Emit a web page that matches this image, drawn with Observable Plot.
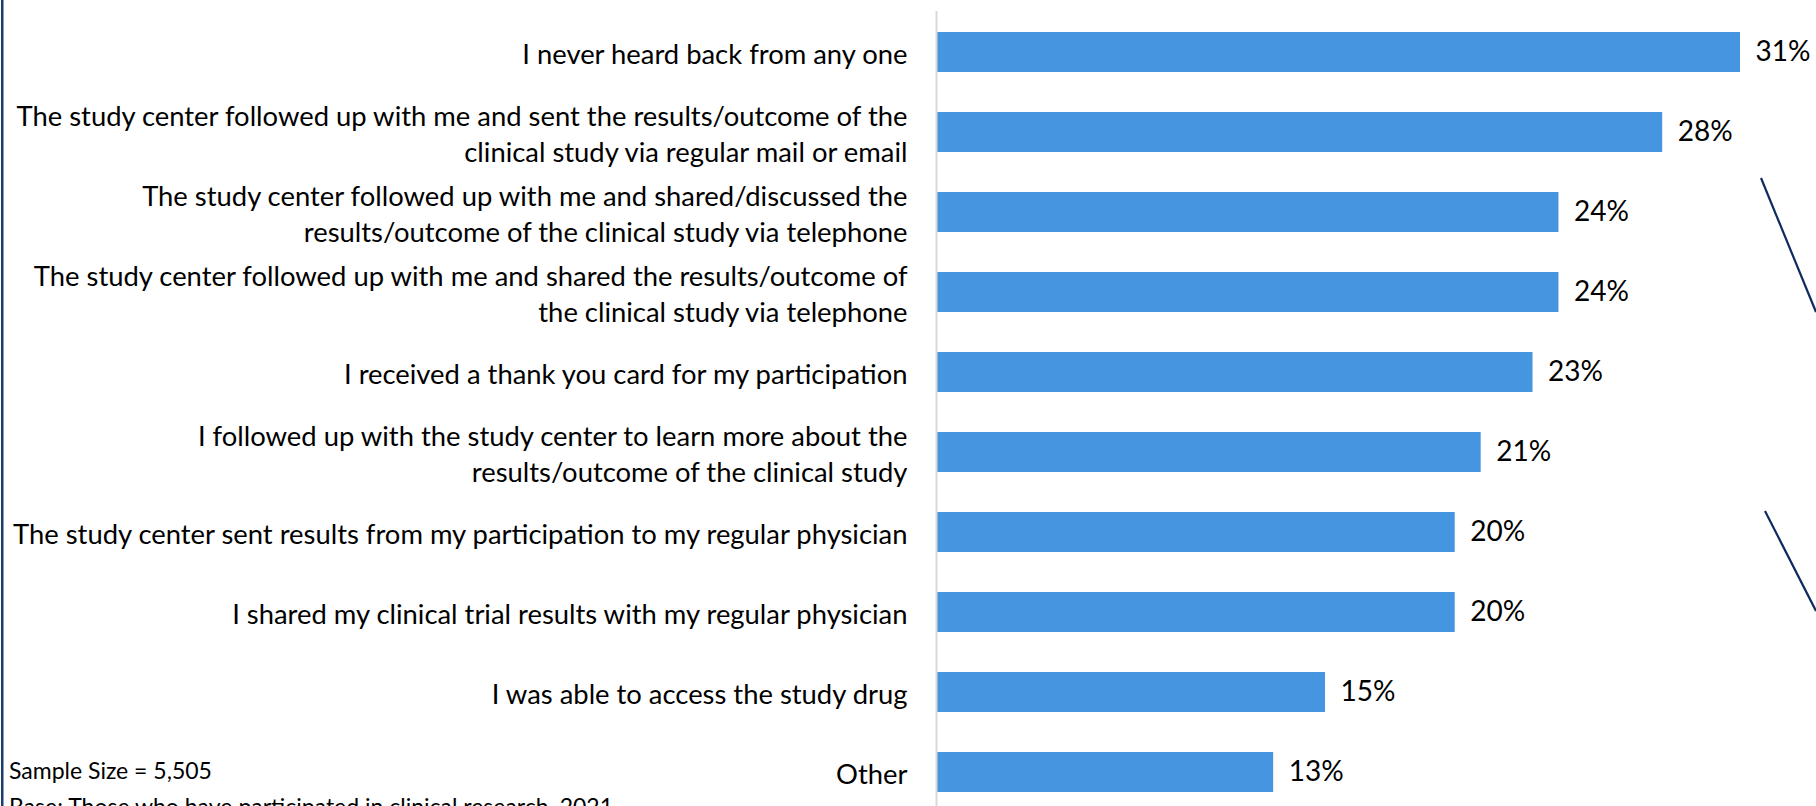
<!DOCTYPE html>
<html>
<head>
<meta charset="utf-8">
<script src="https://cdn.jsdelivr.net/npm/d3@7"></script>
<script src="https://cdn.jsdelivr.net/npm/@observablehq/plot@0.6"></script>
<style>
  html, body { margin: 0; padding: 0; background: #fff; overflow: hidden; }
  #wrap { position: relative; width: 1816px; height: 806px; }
  #chart, #overlay { position: absolute; left: 0; top: 0; }
  #overlay { pointer-events: none; }
</style>
</head>
<body>
<div id="wrap">
  <div id="chart"></div>
  <svg id="overlay" width="1816" height="806"></svg>
</div>
<script>
// Responses, top to bottom, with their shares of respondents (%)
const categories = [
  "I never heard back from any one",
  "The study center followed up with me and sent the results/outcome of the\nclinical study via regular mail or email",
  "The study center followed up with me and shared/discussed the\nresults/outcome of the clinical study via telephone",
  "The study center followed up with me and shared the results/outcome of\nthe clinical study via telephone",
  "I received a thank you card for my participation",
  "I followed up with the study center to learn more about the\nresults/outcome of the clinical study",
  "The study center sent results from my participation to my regular physician",
  "I shared my clinical trial results with my regular physician",
  "I was able to access the study drug",
  "Other"
];
const shares = [31, 28, 24, 24, 23, 21, 20, 20, 15, 13];

const sampleNote = "Sample Size = 5,505";
const baseNote = "Base: Those who have participated in clinical research, 2021";

const rows = categories.map((c, i) => ({category: c, share: shares[i]}));

const FONT = "Lato, 'Liberation Sans', sans-serif";
const BAR = "#4695e1";

const chart = Plot.plot({
  width: 1816,
  height: 806,
  marginLeft: 936,
  marginRight: 0,
  marginTop: 11,
  marginBottom: 0,
  style: {fontFamily: FONT, fontSize: "27px", color: "#000", background: "transparent"},
  x: {domain: [0, 33.93], axis: null},
  y: {domain: categories, paddingInner: 0.5, paddingOuter: 0.2085, align: 0.6, label: null},
  marks: [
    Plot.barX(rows, {x: "share", y: "category", fill: BAR}),
    Plot.ruleX([0], {stroke: "#d9d9d9", strokeWidth: 2}),
    Plot.axisY({
      tickSize: 0,
      tickPadding: 29,
      fontSize: 27.4,
      lineHeight: 1.32,
      fill: "#000",
      label: null
    }),
    Plot.text(rows, {
      x: "share",
      y: "category",
      text: d => `${d.share}%`,
      textAnchor: "start",
      dx: 15,
      fontSize: 28,
      fill: "#000"
    })
  ]
});
document.getElementById("chart").appendChild(chart);

// Slide decorations: left border, footnotes and callout connector lines
const ov = d3.select("#overlay");
ov.append("rect").attr("x", 1).attr("y", 0).attr("width", 2.5).attr("height", 806).attr("fill", "#1c3f6e");
ov.append("text").attr("x", 9).attr("y", 779)
  .attr("font-family", FONT).attr("font-size", 23).attr("fill", "#000").text(sampleNote);
ov.append("text").attr("x", 9).attr("y", 815)
  .attr("font-family", FONT).attr("font-size", 23).attr("fill", "#000").text(baseNote);
const connectors = [
  [[1761, 178], [1816, 312]],
  [[1765, 511], [1816, 611]]
];
connectors.forEach(([a, b]) => {
  ov.append("line").attr("x1", a[0]).attr("y1", a[1]).attr("x2", b[0]).attr("y2", b[1])
    .attr("stroke", "#0e2a5e").attr("stroke-width", 2.2);
});
</script>
</body>
</html>
